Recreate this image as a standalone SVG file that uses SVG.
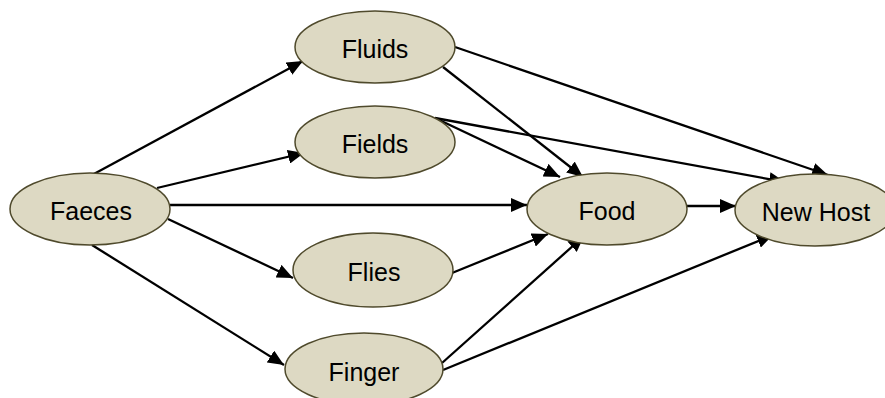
<svg xmlns="http://www.w3.org/2000/svg" width="885" height="398" viewBox="0 0 885 398">
<style>
.node ellipse{fill:#ddd9c3;stroke:#4f4a2c;stroke-width:1.5}
.node text{font-family:"Liberation Sans",Arial,sans-serif;font-size:25px;fill:#000;text-anchor:middle}
#connectors line{stroke:#000;stroke-width:2.3;marker-end:url(#arrow)}
</style>
<defs>
<marker id="arrow" markerUnits="userSpaceOnUse" markerWidth="16" markerHeight="14" refX="16" refY="7" orient="auto" viewBox="0 0 16 14">
<path d="M0,0 L16,7 L0,14 z" fill="#000"/>
</marker>
</defs>
<rect width="885" height="398" fill="#fff"/>
<g id="connectors">
<line x1="92" y1="175" x2="303" y2="61"/>
<line x1="157" y1="188" x2="304" y2="153"/>
<line x1="170" y1="205" x2="527" y2="205"/>
<line x1="168" y1="219" x2="293" y2="278"/>
<line x1="92" y1="245" x2="284" y2="365"/>
<line x1="443" y1="67" x2="583" y2="177"/>
<line x1="455" y1="47" x2="828" y2="175"/>
<line x1="435" y1="118" x2="560" y2="177"/>
<line x1="435" y1="118" x2="785" y2="182"/>
<line x1="452" y1="273" x2="548" y2="234"/>
<line x1="442" y1="363" x2="584" y2="236"/>
<line x1="443" y1="370" x2="773" y2="235"/>
<line x1="687" y1="206" x2="736" y2="206"/>
</g>
<g id="faeces" class="node"><ellipse cx="90" cy="209" rx="80" ry="36"/><text x="91" y="220">Faeces</text></g>
<g id="fluids" class="node"><ellipse cx="375" cy="47" rx="80" ry="36"/><text x="375" y="58">Fluids</text></g>
<g id="fields" class="node"><ellipse cx="375" cy="142" rx="80" ry="36"/><text x="375" y="153">Fields</text></g>
<g id="food" class="node"><ellipse cx="607" cy="209" rx="80" ry="36"/><text x="607" y="220">Food</text></g>
<g id="flies" class="node"><ellipse cx="373" cy="270" rx="80" ry="37"/><text x="374" y="281">Flies</text></g>
<g id="finger" class="node"><ellipse cx="364" cy="369" rx="79" ry="36"/><text x="364" y="381">Finger</text></g>
<g id="newhost" class="node"><ellipse cx="815" cy="210" rx="80" ry="36"/><text x="816" y="221">New Host</text></g>
</svg>
